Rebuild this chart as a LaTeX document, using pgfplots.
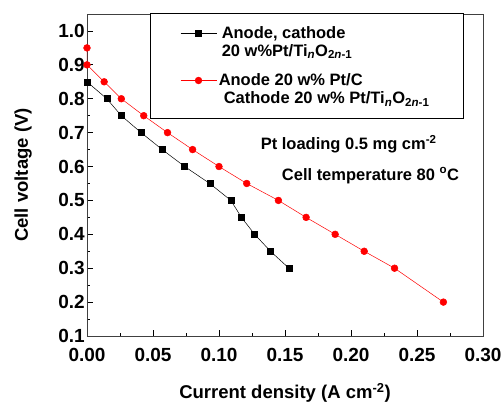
\documentclass[border=0pt]{standalone}
\usepackage{pgfplots}
\pgfplotsset{compat=1.18}
\usepackage{fontspec}
\setmainfont{Liberation Sans}
\begin{document}
\begin{tikzpicture}[font=\bfseries\fontsize{16.5bp}{18bp}\selectfont]
\begin{axis}[
  scale only axis, width=396bp, height=322bp,
  xmin=0, xmax=0.30, ymin=0.1, ymax=1.05,
  xtick={0,0.05,...,0.30}, ytick={0.1,0.2,...,1.0},
  minor x tick num=1, minor y tick num=1,
  ticklabel style={font=\bfseries\fontsize{19bp}{20bp}\selectfont, inner sep=1bp},
  xticklabel style={yshift=-11bp,/pgf/number format/.cd,fixed,fixed zerofill,precision=2},
  yticklabel style={xshift=-1bp,/pgf/number format/.cd,fixed,fixed zerofill,precision=1},
  /pgf/number format/assume math mode=true,
  tick align=inside, xtick pos=bottom, ytick pos=left,
  major tick length=6bp, minor tick length=3.5bp,
  tick style={black, line width=0.7pt},
  axis line style={black!75, line width=0.7pt},
  xlabel={Current density (A cm\textsuperscript{-2})},
  ylabel={Cell voltage (V)},
  label style={font=\bfseries\fontsize{18.5bp}{20bp}\selectfont},
  xlabel style={yshift=-17bp},
  ylabel style={yshift=22bp},
  legend style={at={(rel axis cs:0.159,1.003)}, anchor=north west,
    draw=black, line width=0.6pt, inner xsep=6bp, inner ysep=11bp, row sep=12bp,
    cells={align=left, anchor=west}, font=\bfseries\fontsize{16.5bp}{18bp}\selectfont},
  legend image code/.code={\path (0bp,0bp) -- (0bp,0bp);
    \draw[#1] (24bp,9bp) -- (60bp,9bp);
    \draw[#1,only marks] plot coordinates {(42bp,9bp)};},
]
\addplot[black, line width=0.5pt, mark=square*, mark size=3bp] coordinates {
(0.000,0.85)(0.015,0.80)(0.026,0.75)(0.041,0.70)(0.057,0.65)(0.074,0.60)
(0.093,0.55)(0.109,0.50)(0.117,0.45)(0.127,0.40)(0.139,0.35)(0.153,0.30)};
\addlegendentry{\hspace*{3bp}Anode, cathode\\\hspace*{3bp}20 w\%Pt/Ti\textsubscript{\textit{n}}O\textsubscript{2\textit{n}-1}}
\addplot[red, line width=0.5pt, mark=*, mark size=3.4bp] coordinates {
(0.000,0.95)(0.000,0.90)(0.013,0.85)(0.026,0.80)(0.043,0.75)(0.061,0.70)
(0.080,0.65)(0.100,0.60)(0.121,0.55)(0.145,0.50)(0.166,0.45)(0.188,0.40)
(0.210,0.35)(0.233,0.30)(0.270,0.20)};
\addlegendentry{Anode 20 w\% Pt/C\\\hspace*{5bp}Cathode 20 w\% Pt/Ti\textsubscript{\textit{n}}O\textsubscript{2\textit{n}-1}\hspace*{26bp}}
\node[anchor=base west] at (axis cs:0.129,0.649) {Pt loading 0.5 mg cm\textsuperscript{-2}};
\node[anchor=base west] at (axis cs:0.145,0.560) {Cell temperature 80 \textsuperscript{o}C};
\end{axis}
\path (current axis.south west) ++(-87bp,-64bp) rectangle ++(503bp,400bp);
\end{tikzpicture}
\end{document}
